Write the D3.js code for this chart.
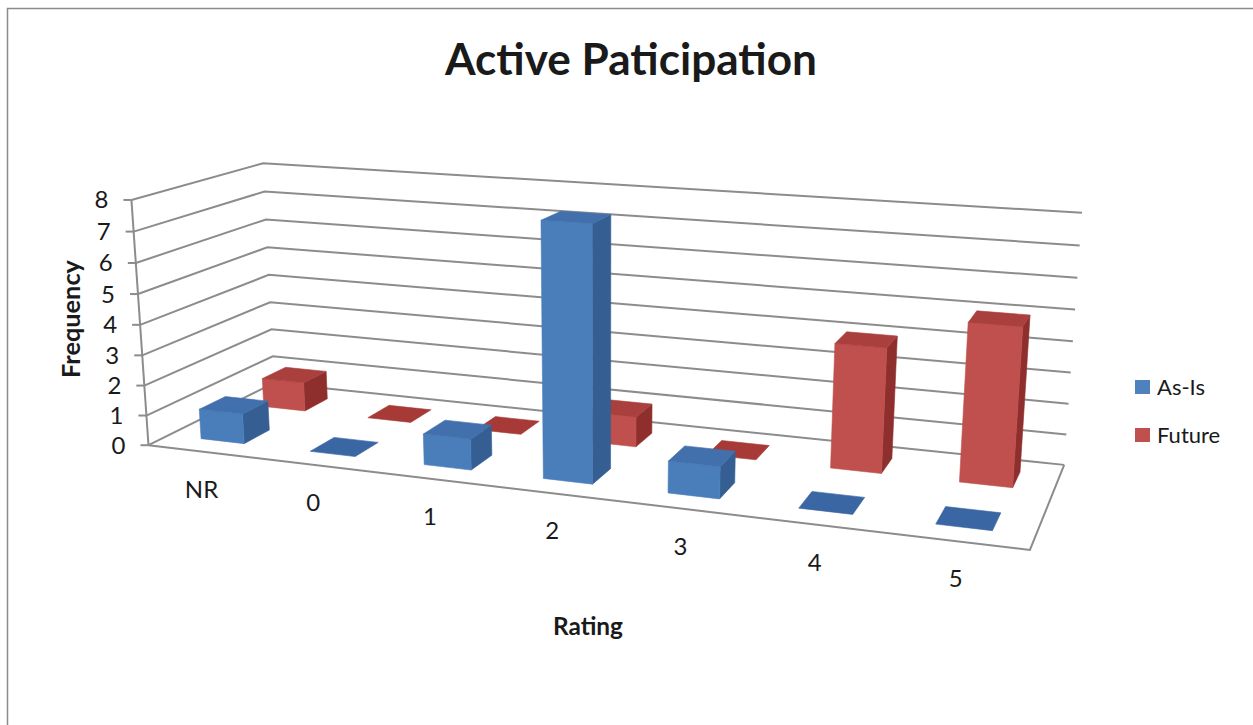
<!DOCTYPE html>
<html>
<head>
<meta charset="utf-8">
<script src="https://cdn.jsdelivr.net/npm/d3@7"></script>
<style>
  body { margin: 0; background: #ffffff; }
  svg { display: block; }
  text { font-family: Lato, "Open Sans", sans-serif; fill: #1a1a1a; }
</style>
</head>
<body>
<svg id="chart" width="1253" height="725"></svg>
<script>
// ---- data ----
const categories = ["NR", "0", "1", "2", "3", "4", "5"];
const seriesNames = ["As-Is", "Future"];
const asIsValues = [1, 0, 1, 8, 1, 0, 0];
const futureValues = [1, 0, 0, 1, 0, 4, 5];
const valueTicks = [0, 1, 2, 3, 4, 5, 6, 7, 8];

// ---- 3D box (world units): x along categories, y up, z into the page ----
const W = 7, H = 8, D = 1;

// Where the plot box corners land on screen; the perspective camera is fitted to these.
const boxAnchors = [
  [[0, 0, 0], [148, 445]],
  [[0, H, 0], [132, 200]],
  [[0, H / 2, 0], [140, 325]],
  [[0, 0, D], [275, 383]],
  [[0, H / 2, D], [268, 275]],
  [[0, H, D], [263, 163]],
  [[W, 0, D], [1064, 465]],
  [[W, H / 2, D], [1073, 341]],
  [[W, H, D], [1082, 213]],
  [[W, 0, 0], [1030, 550]]
];

const palette = {
  "As-Is": { front: "#4a7ebb", side: "#355f93", top: "#4170ad", flat: "#3a67a3", key: "#4f81bd" },
  "Future": { front: "#c0504d", side: "#8e2f2d", top: "#aa403d", flat: "#a73a36", key: "#c0504d" }
};
const gridColor = "#8c8c8c";

// Least-squares fit of a 3x4 projective camera (DLT with P34 = 1)
function fitCamera(anchors) {
  const cu = 620, cv = 360, s = 500;
  const rows = [], rhs = [];
  anchors.forEach(([[X, Y, Z], [u, v]]) => {
    const un = (u - cu) / s, vn = (v - cv) / s;
    rows.push([X, Y, Z, 1, 0, 0, 0, 0, -un * X, -un * Y, -un * Z]); rhs.push(un);
    rows.push([0, 0, 0, 0, X, Y, Z, 1, -vn * X, -vn * Y, -vn * Z]); rhs.push(vn);
  });
  const n = 11;
  const M = Array.from({ length: n }, () => new Array(n + 1).fill(0));
  rows.forEach((r, k) => {
    for (let i = 0; i < n; i++) {
      for (let j = 0; j < n; j++) M[i][j] += r[i] * r[j];
      M[i][n] += r[i] * rhs[k];
    }
  });
  for (let c = 0; c < n; c++) {
    let p = c;
    for (let r = c + 1; r < n; r++) if (Math.abs(M[r][c]) > Math.abs(M[p][c])) p = r;
    [M[c], M[p]] = [M[p], M[c]];
    for (let r = 0; r < n; r++) {
      if (r === c) continue;
      const f = M[r][c] / M[c][c];
      for (let k = c; k <= n; k++) M[r][k] -= f * M[c][k];
    }
  }
  const q = M.map((row, i) => row[n] / row[i]);
  const P = [[q[0], q[1], q[2], q[3]], [q[4], q[5], q[6], q[7]], [q[8], q[9], q[10], 1]];

  // camera centre: solve P[:, :3] * C = -P[:, 3]
  const det3 = m => m[0][0] * (m[1][1] * m[2][2] - m[1][2] * m[2][1])
    - m[0][1] * (m[1][0] * m[2][2] - m[1][2] * m[2][0])
    + m[0][2] * (m[1][0] * m[2][1] - m[1][1] * m[2][0]);
  const A = P.map(r => r.slice(0, 3));
  const b = P.map(r => -r[3]);
  const dA = det3(A);
  const centre = [0, 1, 2].map(k => det3(A.map((r, i) => r.map((v, j) => (j === k ? b[i] : v)))) / dA);

  function project([X, Y, Z]) {
    const w = P[2][0] * X + P[2][1] * Y + P[2][2] * Z + P[2][3];
    const un = (P[0][0] * X + P[0][1] * Y + P[0][2] * Z + P[0][3]) / w;
    const vn = (P[1][0] * X + P[1][1] * Y + P[1][2] * Z + P[1][3]) / w;
    return [cu + s * un, cv + s * vn];
  }
  return { project, centre };
}

const cam = fitCamera(boxAnchors);
const xBand = d3.scaleBand().domain(categories).range([0, W]).paddingInner(0.6).paddingOuter(0.3);
const zBand = d3.scaleBand().domain(seriesNames).range([0, D]).paddingInner(0.6).paddingOuter(0.3);
const yVal = d3.scaleLinear().domain([0, 8]).range([0, H]);
const path3 = pts => d3.line()(pts.map(cam.project));
const poly3 = pts => path3(pts) + "Z";

const svg = d3.select("#chart");

// outer chart border
svg.append("rect")
  .attr("x", 7.5).attr("y", 8.5).attr("width", 1270).attr("height", 740)
  .attr("fill", "none").attr("stroke", gridColor).attr("stroke-width", 1.5);

// ---- walls: gridlines on the side wall and back wall ----
const walls = svg.append("g").attr("fill", "none").attr("stroke", gridColor).attr("stroke-width", 2);
valueTicks.forEach(t => {
  const y = yVal(t);
  walls.append("path").attr("d", path3([[0, y, 0], [0, y, D], [W, y, D]]));
});
// floor outline
walls.append("path").attr("d", path3([[0, 0, 0], [W, 0, 0], [W, 0, D]]));
// value axis with tick marks
walls.append("path").attr("d", path3([[0, 0, 0], [0, yVal(8), 0]]));
valueTicks.forEach(t => {
  const [px, py] = cam.project([0, yVal(t), 0]);
  walls.append("line").attr("x1", px - 8).attr("y1", py).attr("x2", px).attr("y2", py);
});

// ---- bars ----
const bars = [];
seriesNames.forEach((name, si) => {
  const vals = si === 0 ? asIsValues : futureValues;
  categories.forEach((c, ci) => {
    const x0 = xBand(c), x1 = x0 + xBand.bandwidth();
    const z0 = zBand(name), z1 = z0 + zBand.bandwidth();
    bars.push({ name, cat: c, value: vals[ci], x0, x1, z0, z1, h: yVal(vals[ci]) });
  });
});
const C = cam.centre;
bars.forEach(b => {
  const cx = (b.x0 + b.x1) / 2, cz = (b.z0 + b.z1) / 2, cy = b.h / 2;
  b.dist = Math.hypot(C[0] - cx, C[1] - cy, C[2] - cz);
});
bars.sort((a, b) => b.dist - a.dist);

const barLayer = svg.append("g");
bars.forEach(b => {
  const col = palette[b.name];
  const { x0, x1, z0, z1, h } = b;
  const g = barLayer.append("g");
  const face = (pts, fill) => g.append("path").attr("d", poly3(pts))
    .attr("fill", fill).attr("stroke", fill).attr("stroke-width", 0.6).attr("stroke-linejoin", "round");
  if (h <= 0) {
    face([[x0, 0, z0], [x1, 0, z0], [x1, 0, z1], [x0, 0, z1]], col.flat);
    return;
  }
  if (C[2] > z1) face([[x0, 0, z1], [x1, 0, z1], [x1, h, z1], [x0, h, z1]], col.front);
  if (C[0] < x0) face([[x0, 0, z0], [x0, 0, z1], [x0, h, z1], [x0, h, z0]], col.side);
  if (C[0] > x1) face([[x1, 0, z0], [x1, 0, z1], [x1, h, z1], [x1, h, z0]], col.side);
  if (C[2] < z0) face([[x0, 0, z0], [x1, 0, z0], [x1, h, z0], [x0, h, z0]], col.front);
  if (C[1] > h) face([[x0, h, z0], [x1, h, z0], [x1, h, z1], [x0, h, z1]], col.top);
});

// ---- labels ----
const labels = svg.append("g");
valueTicks.forEach(t => {
  const [px, py] = cam.project([0, yVal(t), 0]);
  labels.append("text").attr("x", px - 30).attr("y", py + 8.5)
    .attr("text-anchor", "middle").attr("font-size", 24).text(t);
});
categories.forEach(c => {
  const [px, py] = cam.project([xBand(c) + xBand.bandwidth() / 2, 0, 0]);
  labels.append("text").attr("x", px - 1).attr("y", py + 46)
    .attr("text-anchor", "middle").attr("font-size", 24).text(c);
});

svg.append("text").attr("x", 631).attr("y", 75).attr("text-anchor", "middle")
  .attr("font-size", 44).attr("font-weight", 700)
  .attr("textLength", 372).attr("lengthAdjust", "spacingAndGlyphs")
  .text("Active Paticipation");

svg.append("text").attr("transform", "translate(80,319) rotate(-90)")
  .attr("text-anchor", "middle").attr("font-size", 24).attr("font-weight", 700)
  .attr("textLength", 118).attr("lengthAdjust", "spacingAndGlyphs")
  .text("Frequency");

svg.append("text").attr("x", 588).attr("y", 635).attr("text-anchor", "middle")
  .attr("font-size", 24).attr("font-weight", 700)
  .attr("textLength", 70).attr("lengthAdjust", "spacingAndGlyphs")
  .text("Rating");

// ---- legend ----
const legend = svg.append("g").attr("transform", "translate(1135,380)");
seriesNames.forEach((name, i) => {
  const row = legend.append("g").attr("transform", `translate(0,${i * 48})`);
  row.append("rect").attr("width", 15).attr("height", 14).attr("fill", palette[name].key);
  row.append("text").attr("x", 22).attr("y", 15).attr("font-size", 22).text(name);
});
</script>
</body>
</html>
